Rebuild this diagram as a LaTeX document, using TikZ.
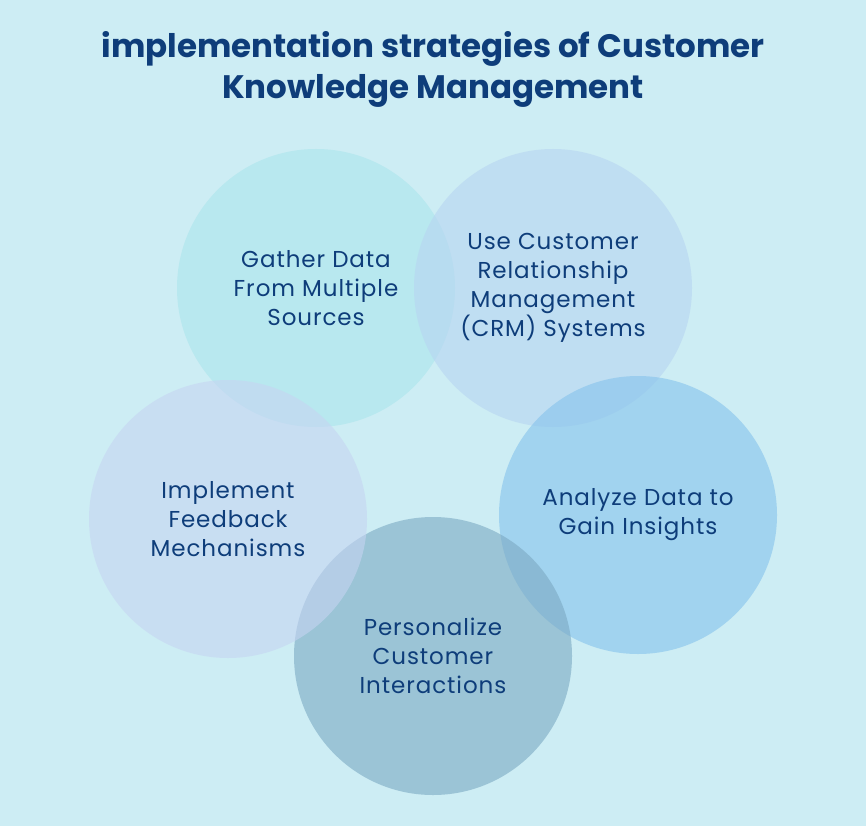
\documentclass[tikz,border=0pt]{standalone}
\usepackage{fontspec}
\setmainfont{Poppins}
\definecolor{bgcol}{RGB}{205,237,244}
\definecolor{inkblue}{RGB}{14,61,122}
\definecolor{gathercol}{RGB}{170,229,236}
\definecolor{crmcol}{RGB}{183,212,241}
\definecolor{analyzecol}{RGB}{133,194,236}
\definecolor{personcol}{RGB}{123,169,194}
\definecolor{feedcol}{RGB}{198,212,242}
\tikzset{
  bubble/.style={circle, minimum size=278pt, inner sep=0pt, fill opacity=0.6,
    text opacity=1, text=inkblue, align=center,
    font=\fontsize{23}{29}\selectfont\addfontfeature{LetterSpace=4}}
}
\begin{document}
\begin{tikzpicture}[x=1pt,y=-1pt]
\fill[bgcol] (0,0) rectangle (866,826);
\useasboundingbox (0,0) rectangle (866,826);
\node[align=center, text=inkblue, font=\fontsize{32.5}{41}\selectfont\bfseries] (title) at (433,69) {implementation strategies of Customer\\Knowledge Management};
\node[bubble, fill=gathercol] (gather) at (316,288) {Gather Data\\From Multiple\\Sources};
\node[bubble, fill=crmcol] (crm) at (553,288) {Use Customer\\Relationship\\Management\\(CRM) Systems};
\node[bubble, fill=analyzecol] (analyze) at (638,515) {Analyze Data to\\Gain Insights};
\node[bubble, fill=personcol] (person) at (433,656) {Personalize\\Customer\\Interactions};
\node[bubble, fill=feedcol] (feedback) at (228,519) {Implement\\Feedback\\Mechanisms};
\end{tikzpicture}
\end{document}
